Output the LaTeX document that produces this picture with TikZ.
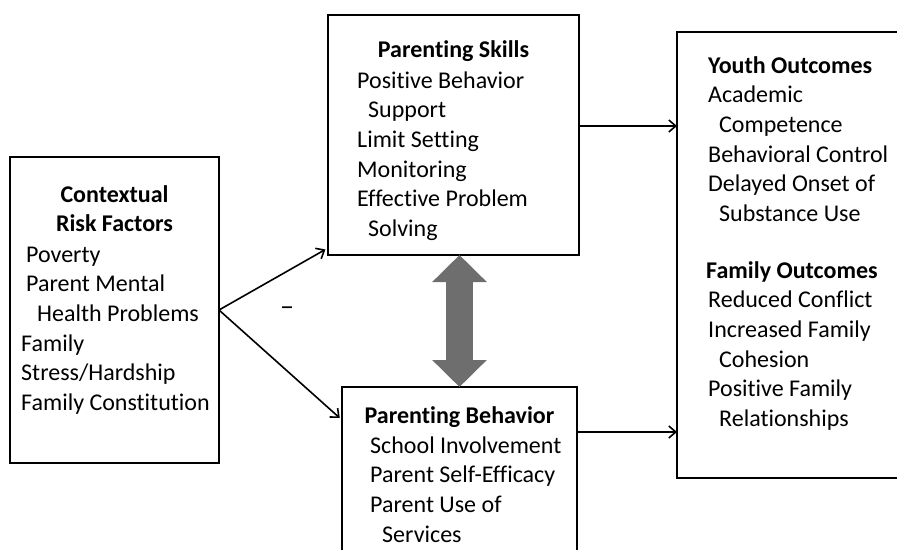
\documentclass[tikz,border=0pt]{standalone}
\usepackage{fontspec}
\setmainfont{Carlito}[Ligatures=NoCommon]
\usetikzlibrary{arrows.meta}
\definecolor{arrowgray}{RGB}{110,110,110}
\newcommand{\boxfont}{\fontsize{24}{29.7}\selectfont}

\tikzset{
  box/.style={draw=black, line width=2.8pt, inner sep=0pt, outer sep=0pt},
  head/.style={font=\boxfont\bfseries, align=center, anchor=north, inner sep=0pt},
  items/.style={font=\boxfont, align=left, anchor=north west, inner sep=0pt},
  link/.style={line width=1.6pt, -{Straight Barb[length=7pt,width=12pt]}},
  bigarrow/.style={line width=27pt, draw=arrowgray,
    {Triangle[length=27pt,width=53pt]}-{Triangle[length=27pt,width=53pt]}}
}

\begin{document}
\begin{tikzpicture}[x=1pt, y=-1pt]
	\path[clip, use as bounding box] (0,0) rectangle (897,549);
	% boxes
	\node[box, minimum width=209pt, minimum height=306pt] (ctx) at (114.5,310) {};
	\node[box, minimum width=251pt, minimum height=240pt] (skills) at (453.5,135) {};
	\node[box, minimum width=235pt, minimum height=200pt] (behav) at (459.5,487) {};
	\node[box, minimum width=243pt, minimum height=446pt] (outcome) at (798.5,255) {};
	% texts
	\node[head] (ctxhead) at (114.5,181.2) {\strut Contextual\\Risk Factors};
	\node[items] (ctxlist) at (21,241.2) {\strut\hspace*{5pt}Poverty\\
		\hspace*{5pt}Parent Mental\\\hspace*{16pt}Health Problems\\
		Family\\Stress/Hardship\\Family Constitution};
	\node[head] (skillhead) at (453.5,36.2) {\strut Parenting Skills};
	\node[items] (skilllist) at (357,67.2) {\strut Positive Behavior\\
		\hspace*{11pt}Support\\Limit Setting\\Monitoring\\
		Effective Problem\\\hspace*{11pt}Solving};
	\node[head] (behavhead) at (459.5,402.2) {\strut Parenting Behavior};
	\node[items] (behavlist) at (370,432.2) {\strut School Involvement\\
		Parent Self-Efficacy\\Parent Use of\\\hspace*{12pt}Services};
	\node[items] (youthlist) at (708,52.2) {\strut\textbf{Youth Outcomes}\\
		Academic\\\hspace*{11pt}Competence\\Behavioral Control\\
		Delayed Onset of\\\hspace*{11pt}Substance Use};
	\node[items] (familylist) at (706,257.2) {\strut\textbf{Family Outcomes}\\
		\hspace*{2pt}Reduced Conflict\\\hspace*{2pt}Increased Family\\
		\hspace*{13pt}Cohesion\\\hspace*{2pt}Positive Family\\
		\hspace*{13pt}Relationships};
	\node[font=\fontsize{28}{30}\selectfont, inner sep=0pt] (minus) at (287,311) {--};
	% connectors
	\draw[bigarrow] (behav.north |- skills.south) -- (behav.north);
	\draw[link, shorten >=3pt] (ctx.east) -- ([yshift=7pt]skills.south west);
	\draw[link, shorten >=3pt] (ctx.east) -- ([yshift=-33pt]behav.north west);
	\draw[link] ([yshift=9pt]skills.east) -- ([yshift=9pt]skills.east -| outcome.west);
	\draw[link] ([yshift=-45pt]behav.north east) -- ([yshift=-45pt]behav.north east -| outcome.west);
\end{tikzpicture}
\end{document}
